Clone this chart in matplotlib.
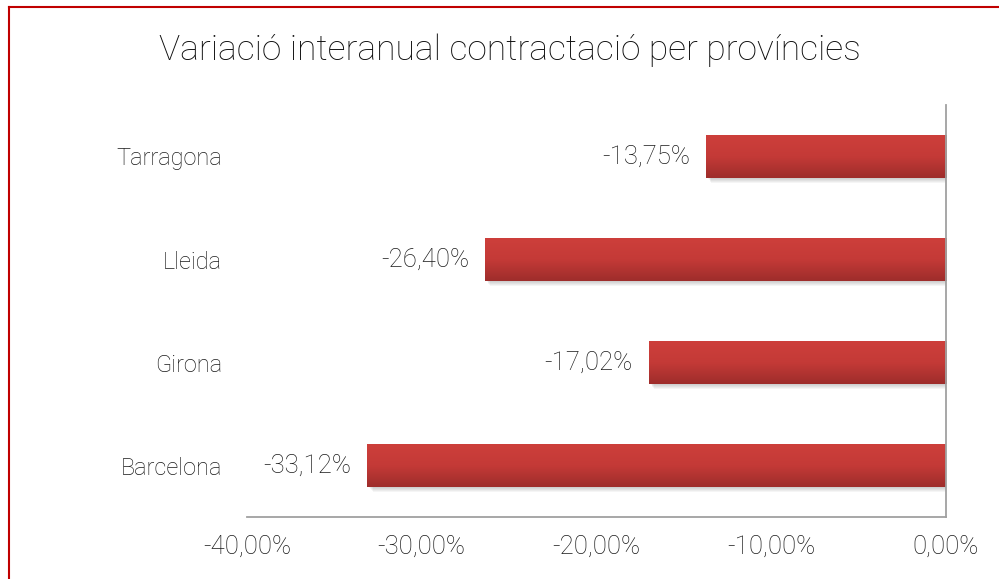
import numpy as np
import matplotlib.pyplot as plt
from matplotlib.colors import LinearSegmentedColormap
from matplotlib.patches import Rectangle
from matplotlib.ticker import FuncFormatter

provinces = ['Barcelona', 'Girona', 'Lleida', 'Tarragona']
values = [-33.12, -17.02, -26.40, -13.75]
xticks = [-40, -30, -20, -10, 0]

plt.rcParams['font.family'] = ['Roboto', 'DejaVu Sans']
plt.rcParams['font.weight'] = 'light'
txt = '#1a1a1a'

fig = plt.figure(figsize=(9.99, 5.79), dpi=100)
ax = fig.add_axes([0.2472, 0.107, 0.6998, 0.7117])

# red frame on top/left of chart area
fig.add_artist(plt.Line2D([0.009, 0.009], [0, 0.988], color='#C00000', lw=1.5))
fig.add_artist(plt.Line2D([0.009, 1.0], [0.988, 0.988], color='#C00000', lw=1.5))

h = 0.41
grad = LinearSegmentedColormap.from_list('g', ['#9E2D2B', '#C43A37', '#CD3F3B'])
ypos = np.arange(len(provinces))
bars = ax.barh(ypos, values, height=h, color='none')
for b, v in zip(bars, values):
    x0, y0, w, hh = b.get_x(), b.get_y(), b.get_width(), b.get_height()
    # soft shadow
    for k in range(5):
        ax.add_patch(Rectangle((x0 + 0.12 + k * 0.05, y0 - 0.015 - k * 0.01), w, hh,
                               color='black', alpha=0.04, lw=0, zorder=1))
    im = ax.imshow(np.linspace(0, 1, 100).reshape(-1, 1), cmap=grad, aspect='auto',
                   extent=[x0, x0 + w, y0, y0 + hh], origin='lower', zorder=2)
    im.set_clip_path(Rectangle((x0, y0), w, hh, transform=ax.transData))
    ax.text(v - 0.9, b.get_y() + hh / 2, ('%.2f%%' % v).replace('.', ','),
            ha='right', va='center', fontsize=18.5, color=txt)

ax.set_xlim(-40, 0)
ax.set_ylim(-0.5, len(provinces) - 0.5)
ax.set_xticks(xticks)
ax.xaxis.set_major_formatter(FuncFormatter(lambda x, p: ('%.2f%%' % x).replace('.', ',')))
ax.set_yticks(ypos)
ax.set_yticklabels(provinces)
ax.tick_params(length=0, colors=txt)
ax.tick_params(axis='x', pad=13, labelsize=18.5)
ax.tick_params(axis='y', pad=18, labelsize=17)
for s in ['top', 'left']:
    ax.spines[s].set_visible(False)
for s in ['bottom', 'right']:
    ax.spines[s].set_color('#A0A0A0')
    ax.spines[s].set_linewidth(1.3)

fig.text(0.51, 0.913, 'Variació interanual contractació per províncies',
         ha='center', va='center', fontsize=25.5, color='#0d0d0d')

fig.savefig('out.png', dpi=100)
